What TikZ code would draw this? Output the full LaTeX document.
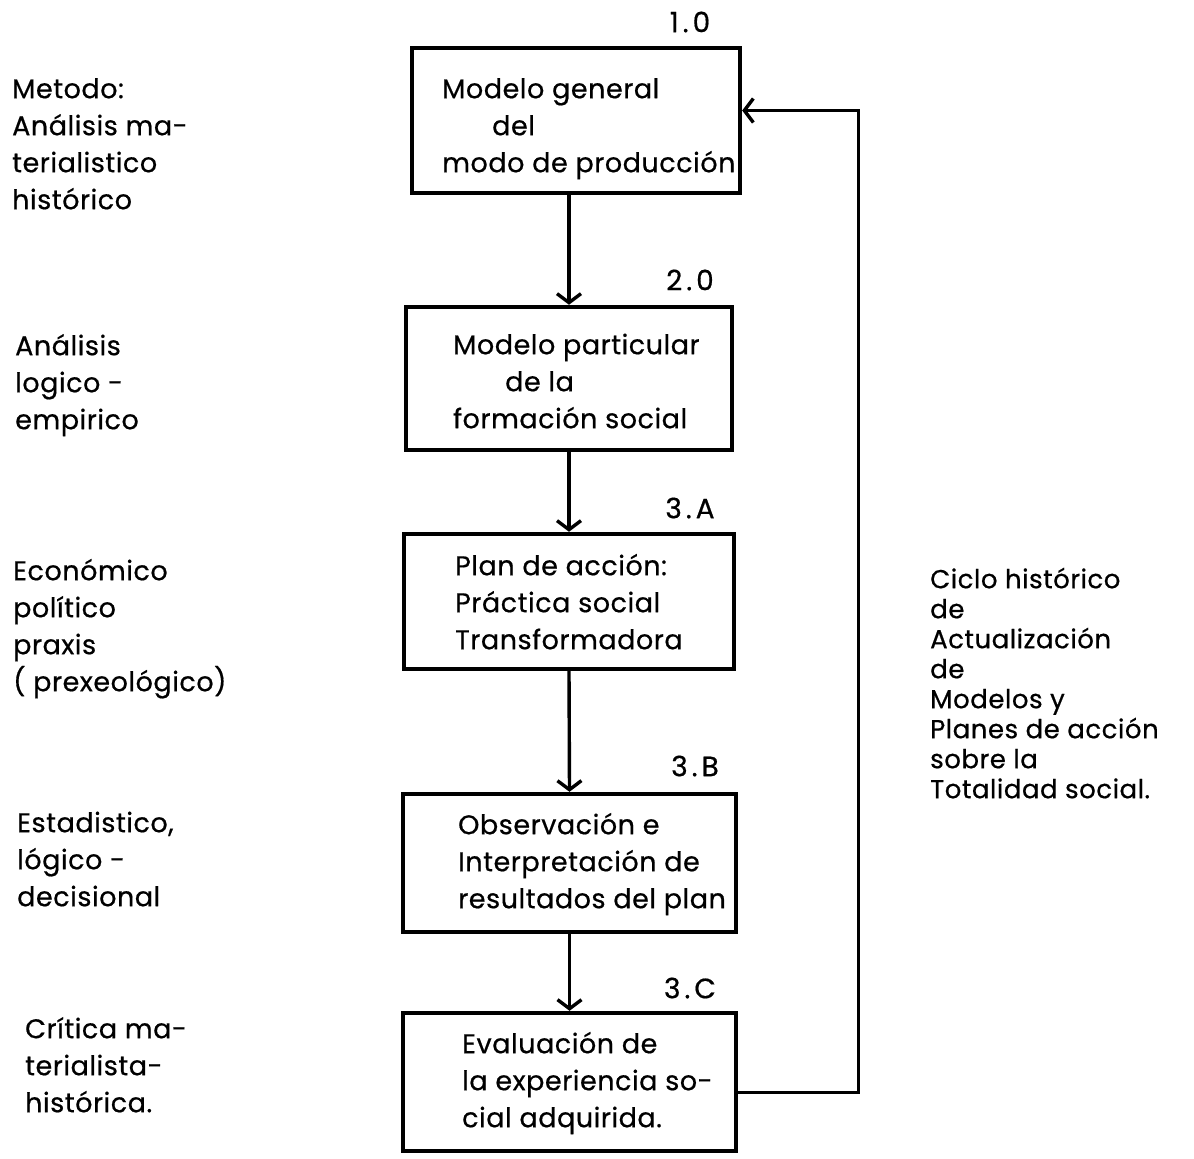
\documentclass[tikz,border=0pt]{standalone}
\usepackage{fontspec}
\setmainfont{Poppins}[FakeBold=0.6, LetterSpace=2]
\usetikzlibrary{arrows.meta}
\newcommand{\topstrut}{\rule{0pt}{28pt}}
\newcommand{\sep}{\hspace{4pt}}
\begin{document}
\begin{tikzpicture}[x=1pt,y=-1pt,
  stage/.style={draw, line width=4.4pt, inner sep=0pt},
  txt/.style={font=\fontsize{27}{37}\selectfont, align=left, anchor=north west, inner sep=0pt},
  side/.style={txt},
  note/.style={txt, font=\fontsize{26}{30}\selectfont},
  num/.style={font=\fontsize{28}{32}\selectfont, inner sep=0pt},
  conn/.style={line width=3.4pt, -{Straight Barb[length=9pt,width=24pt,line width=3.4pt]}},
  back/.style={line width=3pt, -{Straight Barb[length=9pt,width=24pt,line width=3.4pt]}}
]
\useasboundingbox (0,0) rectangle (1194,1159);

% stage boxes
\node[stage, minimum width=328pt, minimum height=145pt] (b1)  at (576,120.5) {};
\node[stage, minimum width=326pt, minimum height=143pt] (b2)  at (569,378.5) {};
\node[stage, minimum width=330pt, minimum height=135pt] (b3a) at (569,601.5) {};
\node[stage, minimum width=333pt, minimum height=138pt] (b3b) at (569.5,863) {};
\node[stage, minimum width=333pt, minimum height=138pt] (b3c) at (569.5,1082) {};

% stage numbers
\node[num] (n1)  at (690,22)  {1\sep.\sep0};
\node[num] (n2)  at (690,280) {2\sep.\sep0};
\node[num] (n3a) at (690,508) {3\sep.\sep A};
\node[num] (n3b) at (695,766) {3\sep.\sep B};
\node[num] (n3c) at (690,988) {3\sep.\sep C};

% texts inside the boxes
\node[txt] (t1)  at (442,70)   {\topstrut Modelo general\\\hspace*{50pt}del\\modo de producción};
\node[txt] (t2)  at (453,326)  {\topstrut Modelo particular\\\hspace*{52pt}de la\\formación social};
\node[txt] (t3a) at (455,547)  {\topstrut Plan de acción:\\Práctica social\\Transformadora};
\node[txt] (t3b) at (458,806)  {\topstrut Observación e\\Interpretación de\\resultados del plan};
\node[txt] (t3c) at (462,1025) {\topstrut Evaluación de\\la experiencia so-\\cial adquirida.};

% method notes on the left
\node[side] (l1) at (12,70)   {\topstrut Metodo:\\Análisis ma-\\terialistico\\histórico};
\node[side] (l2) at (15,327)  {\topstrut Análisis\\logico -\\empirico};
\node[side] (l3) at (13,552)  {\topstrut Económico\\político\\praxis\\( prexeológico)};
\node[side] (l4) at (17,804)  {\topstrut Estadistico,\\lógico -\\decisional};
\node[side] (l5) at (25,1010) {\topstrut Crítica ma-\\terialista-\\histórica.};

% cycle note on the right
\node[note] (r1) at (930,560) {\topstrut Ciclo histórico\\de\\Actualización\\de\\Modelos y\\Planes de acción\\sobre la\\Totalidad social.};

% main sequence
\draw[conn] (b1.south -| b2.north) -- (b2.north);
\draw[conn] (b2.south) -- (b3a.north);
\draw[conn] (b3a.south) -- (b3b.north);
\draw[conn] (b3b.south) -- (b3c.north);

% feedback loop
\draw[back] ([yshift=-10pt]b3c.east) -- ++(120pt,0) |- ([yshift=10pt]b1.east);
\end{tikzpicture}
\end{document}
